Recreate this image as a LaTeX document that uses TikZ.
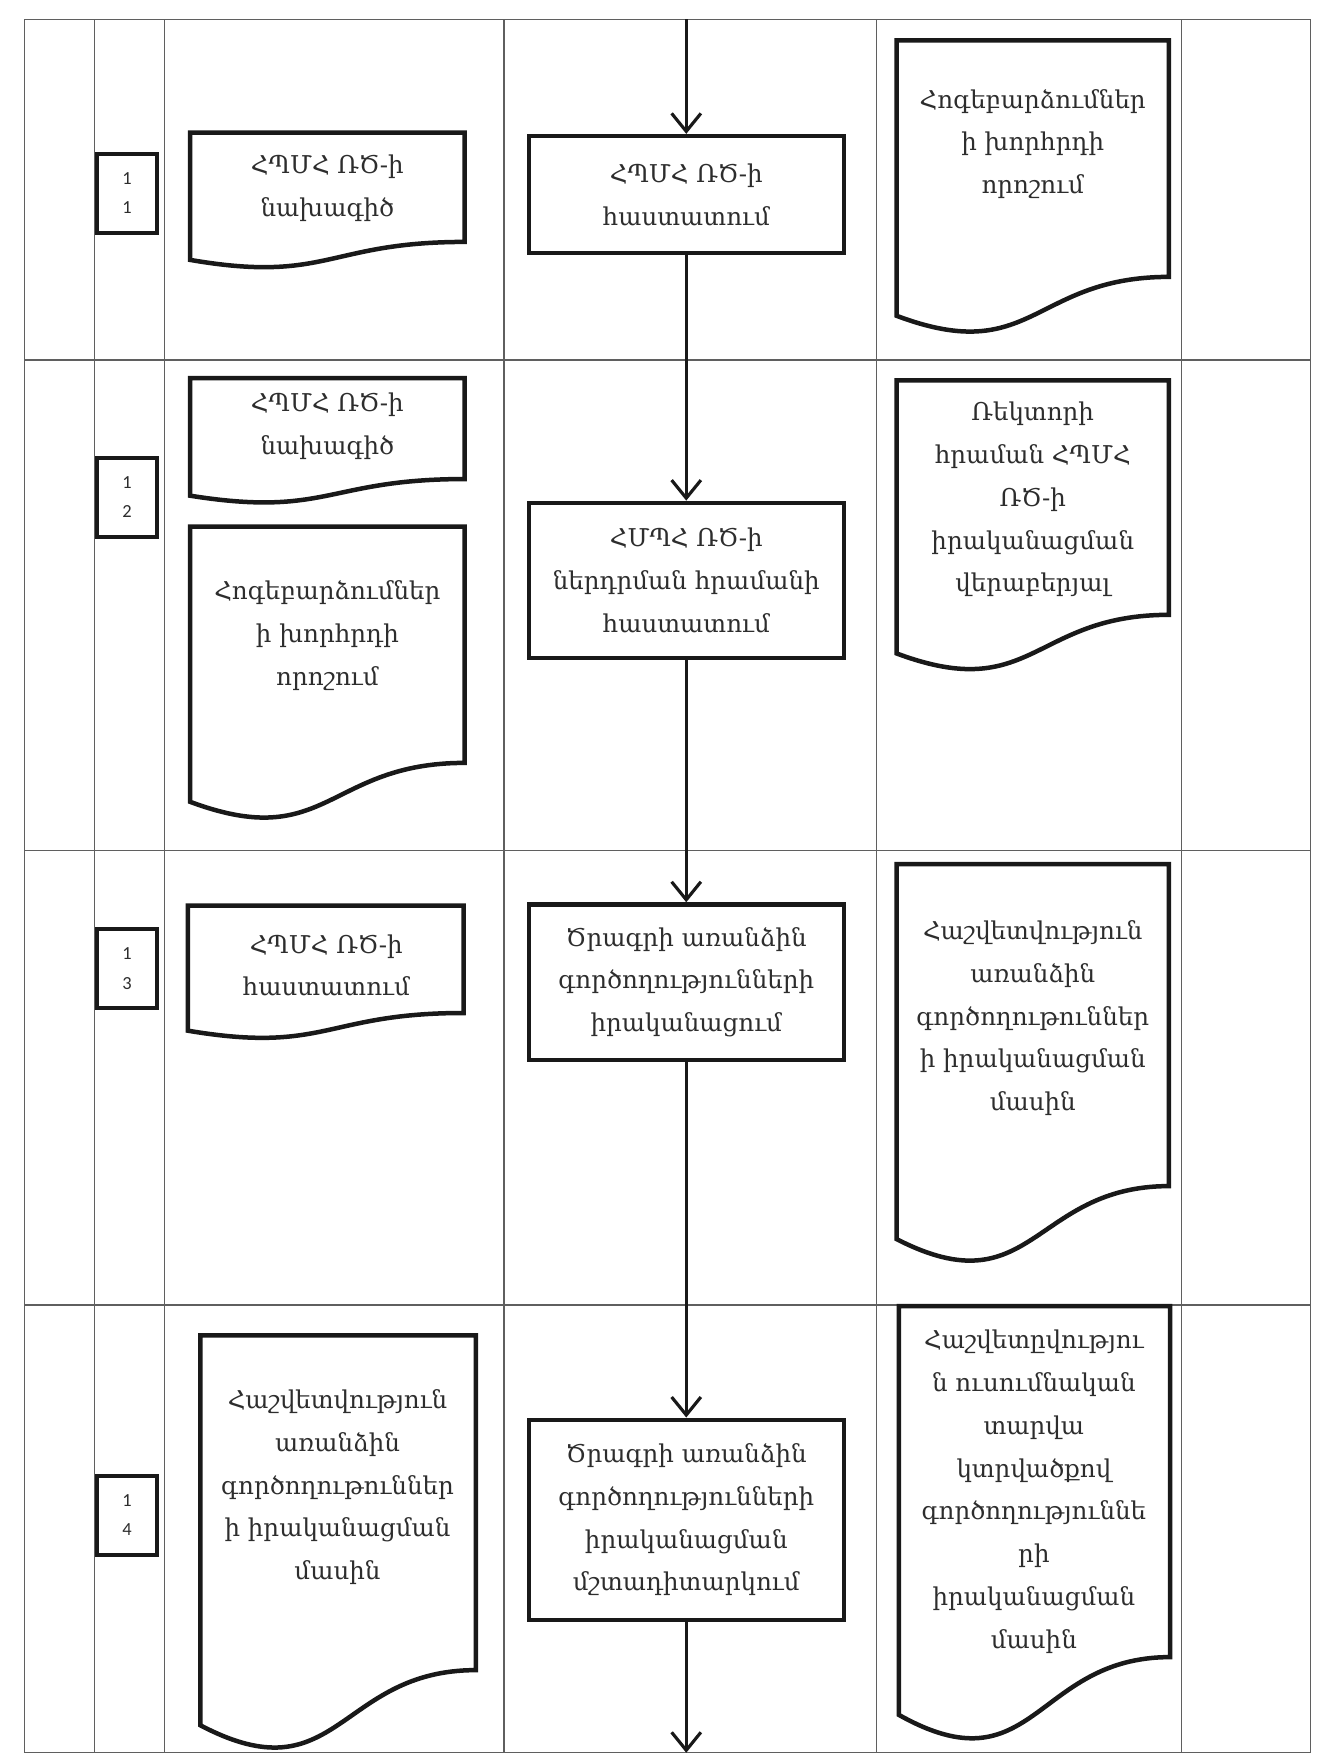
\documentclass[tikz,border=0pt]{standalone}
\usepackage{fontspec}
\setmainfont{DejaVu Serif}
\newfontfamily\numfont{Carlito}
\usetikzlibrary{arrows.meta}
\definecolor{inkblack}{RGB}{25,25,25}
\definecolor{txtgray}{RGB}{45,45,45}
\definecolor{gridgray}{RGB}{95,95,95}
\newcommand\armtext{\fontsize{10.9}{19}\selectfont}
\newcommand\numtext{\numfont\fontsize{8.2}{12.9}\selectfont}
\newcommand\docpath[4]{%
  \draw[shapeline, fill=white] (#1,#2) -- ({#1+#3},#2) -- ({#1+#3},{#2+0.802*#4})
    .. controls ({#1+0.5*#3},{#2+0.802*#4}) and ({#1+0.5*#3},{#2+1.108*#4}) .. (#1,{#2+0.934*#4}) -- cycle;}
\begin{document}
\begin{tikzpicture}[x=0.5pt,y=-0.5pt,
  gridline/.style={line width=0.5pt, draw=gridgray},
  shapeline/.style={line width=2pt, draw=inkblack, line join=miter},
  procbox/.style={shapeline, rectangle, fill=white, minimum width=140pt, align=center, font=\armtext, text=txtgray, inner sep=2pt},
  doctext/.style={align=center, font=\armtext, text=txtgray, inner sep=0pt},
  numbox/.style={shapeline, line width=1.8pt, rectangle, fill=white, minimum width=26.5pt, minimum height=35pt, align=center, font=\numtext, text=txtgray, inner sep=0pt},
  conn/.style={line width=1.4pt, draw=inkblack, -{Straight Barb[length=8pt,width=13pt]}}
]
\fill[white] (0,0) rectangle (1185,1568);
\useasboundingbox (0,0) rectangle (1185,1568);
% grid
\foreach \x in {22,84,146,448,779,1050,1165} \draw[gridline] (\x,17) -- (\x,1558);
\foreach \y in {17,320,756,1160,1558} \draw[gridline] (22,\y) -- (1165,\y);
% number boxes
\node[numbox] (n1) at (113,172) {1\\1};
\node[numbox] (n2) at (113,442) {1\\2};
\node[numbox] (n3) at (113,861) {1\\3};
\node[numbox] (n4) at (113,1347) {1\\4};
% process boxes
\node[procbox, minimum height=52pt] (b1) at (610,173) {ՀՊՄՀ ՌԾ-ի\\հաստատում};
\node[procbox, minimum height=69pt] (b2) at (610,516) {ՀՄՊՀ ՌԾ-ի\\ներդրման հրամանի\\հաստատում};
\node[procbox, minimum height=69pt] (b3) at (610,873) {Ծրագրի առանձին\\գործողությունների\\իրականացում};
\node[procbox, minimum height=89pt] (b4) at (610,1351) {Ծրագրի առանձին\\գործողությունների\\իրականացման\\մշտադիտարկում};
% documents
\docpath{169}{118}{244}{121}
\node[doctext] (dL1) at (291,167) {ՀՊՄՀ ՌԾ-ի\\նախագիծ};
\docpath{797}{36}{242}{262}
\node[doctext] (dR1) at (918,128) {Հոգեբարձումներ\\ի խորհրդի\\որոշում};
\docpath{169}{336}{244}{112}
\node[doctext] (dL2a) at (291,379) {ՀՊՄՀ ՌԾ-ի\\նախագիծ};
\docpath{169}{468}{244}{262}
\node[doctext] (dL2b) at (291,565) {Հոգեբարձումներ\\ի խորհրդի\\որոշում};
\docpath{797}{338}{242}{260}
\node[doctext] (dR2) at (918,444) {Ռեկտորի\\հրաման ՀՊՄՀ\\ՌԾ-ի\\իրականացման\\վերաբերյալ};
\docpath{167}{805}{245}{119}
\node[doctext] (dL3) at (290,858) {ՀՊՄՀ ՌԾ-ի\\հաստատում};
\docpath{797}{768}{242}{357}
\node[doctext] (dR3) at (918,905) {Հաշվետվություն\\առանձին\\գործողութուններ\\ի իրականացման\\մասին};
\docpath{178}{1187}{245}{371}
\node[doctext] (dL4) at (300,1322) {Հաշվետվություն\\առանձին\\գործողութուններ\\ի իրականացման\\մասին};
\docpath{799}{1161}{241}{389}
\node[doctext] (dR4) at (919,1326) {Հաշվետըվությու\\ն ուսումնական\\տարվա\\կտրվածքով\\գործողություննե\\րի\\իրականացման\\մասին};
% connectors
\coordinate (topin) at (610,17);
\coordinate (botout) at (610,1558);
\draw[conn] (topin) -- (b1.north);
\draw[conn] (b1.south) -- (b2.north);
\draw[conn] (b2.south) -- (b3.north);
\draw[conn] (b3.south) -- (b4.north);
\draw[conn] (b4.south) -- (botout);
\end{tikzpicture}
\end{document}
